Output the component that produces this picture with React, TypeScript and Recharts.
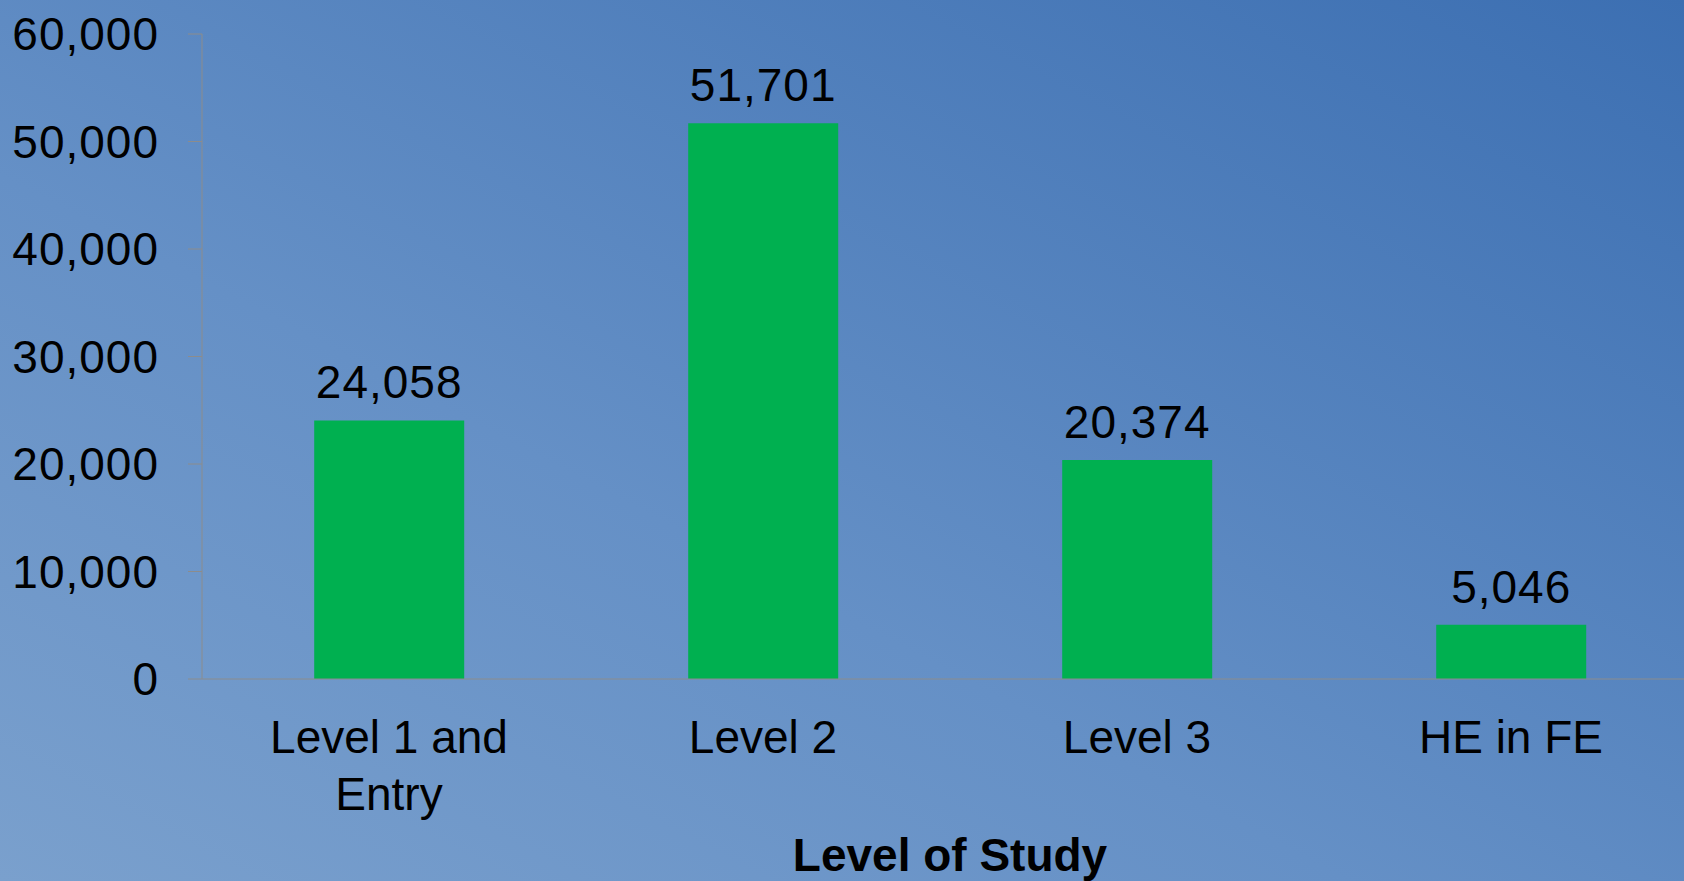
import { BarChart, Bar, XAxis, YAxis, LabelList, Label } from 'recharts';

const categories = ['Level 1 and Entry', 'Level 2', 'Level 3', 'HE in FE'];
const learners = [24058, 51701, 20374, 5046];
const yTicks = [0, 10000, 20000, 30000, 40000, 50000, 60000];
const xTitle = 'Level of Study';

const chartData = categories.map((name, i) => ({ name, value: learners[i] }));

const FONT = '"Liberation Sans", Arial, sans-serif';
const fmt = (v: number) => v.toLocaleString('en-US');

// Excel-style wrap: "Level 1 and Entry" -> two lines
function splitLabel(label: string): string[] {
  const idx = label.indexOf(' and ');
  if (idx < 0) return [label];
  return [label.slice(0, idx + 4), label.slice(idx + 5)];
}

function CategoryTick(props: any) {
  const { x, y, payload } = props;
  const lines = splitLabel(String(payload.value));
  return (
    <g>
      {lines.map((line, i) => (
        <text
          key={i}
          x={x}
          y={y + 50 + i * 57}
          textAnchor="middle"
          dominantBaseline="central"
          fontSize={46}
          fontFamily={FONT}
          fill="#000"
        >
          {line}
        </text>
      ))}
    </g>
  );
}

function ValueLabel(props: any) {
  const { x, y, width, value } = props;
  return (
    <text
      x={x + width / 2}
      y={y - 38}
      textAnchor="middle"
      dominantBaseline="central"
      fontSize={46}
      fontFamily={FONT}
      letterSpacing={1}
      fill="#000"
    >
      {fmt(value)}
    </text>
  );
}

export default function App() {
  return (
    <div
      style={{
        position: 'fixed',
        left: 0,
        top: 0,
        width: 1684,
        height: 881,
        overflow: 'hidden',
        background: 'linear-gradient(to top right, #7aa0cd 0%, #6590c6 40%, #3c6fb2 100%)',
      }}
    >
      <BarChart
        width={1720}
        height={881}
        data={chartData}
        margin={{ top: 34, right: 22, bottom: 0, left: 0 }}
        barCategoryGap="30%"
      >
        <YAxis
          width={202}
          domain={[0, 60000]}
          ticks={yTicks}
          interval={0}
          tickFormatter={fmt}
          axisLine={{ stroke: '#8c8c8c', strokeWidth: 1 }}
          tickLine={{ stroke: '#8c8c8c', strokeWidth: 1 }}
          tickSize={14}
          tickMargin={29}
          tick={{ fontSize: 46, fontFamily: FONT, fill: '#000', letterSpacing: 1 }}
        />
        <XAxis
          dataKey="name"
          height={202}
          interval={0}
          axisLine={{ stroke: '#8c8c8c', strokeWidth: 1 }}
          tickLine={false}
          tick={<CategoryTick />}
        >
          <Label
            content={(p: any) => {
              const vb = p.viewBox;
              return (
                <text
                  x={vb.x + vb.width / 2}
                  y={vb.y + 176}
                  textAnchor="middle"
                  dominantBaseline="central"
                  fontSize={46}
                  fontWeight="bold"
                  fontFamily={FONT}
                  fill="#000"
                >
                  {xTitle}
                </text>
              );
            }}
          />
        </XAxis>
        <Bar dataKey="value" fill="#00b050" isAnimationActive={false}>
          <LabelList dataKey="value" content={<ValueLabel />} />
        </Bar>
      </BarChart>
    </div>
  );
}
